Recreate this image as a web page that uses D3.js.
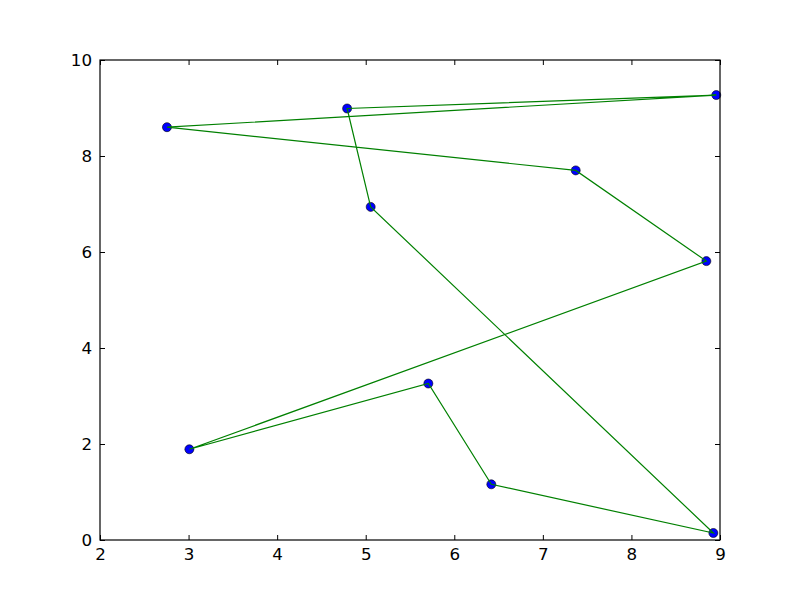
<!DOCTYPE html>
<html>
<head>
<script src="https://cdn.jsdelivr.net/npm/d3@7"></script>
<style>
  body { margin: 0; background: #fff; }
  text { font-family: "DejaVu Sans", sans-serif; font-size: 16.7px; fill: #000; }
</style>
</head>
<body>
<div id="chart"></div>
<script>
// data points, in the order the line visits them (closed loop)
const xs = [2.756, 8.958, 4.79, 5.056, 8.925, 6.418, 5.707, 3.009, 8.846, 7.371, 2.756];
const ys = [8.60, 9.27, 8.99, 6.94, 0.146, 1.16, 3.26, 1.89, 5.81, 7.70, 8.60];
const xTicks = [2, 3, 4, 5, 6, 7, 8, 9];
const yTicks = [0, 2, 4, 6, 8, 10];

const W = 800, H = 600;
const m = { left: 100, right: 80, top: 60, bottom: 60 };

const svg = d3.select("#chart").append("svg")
  .attr("width", W).attr("height", H);

const x = d3.scaleLinear().domain([2, 9]).range([m.left, W - m.right]);
const y = d3.scaleLinear().domain([0, 10]).range([H - m.bottom, m.top]);

const pts = xs.map((v, i) => [v, ys[i]]);

// markers
svg.append("g").selectAll("circle")
  .data(pts.slice(0, -1))
  .enter().append("circle")
  .attr("cx", d => x(d[0]))
  .attr("cy", d => y(d[1]))
  .attr("r", 4.5)
  .attr("fill", "#0000ff")
  .attr("stroke", "#000")
  .attr("stroke-width", 0.6);

// line
svg.append("path")
  .datum(pts)
  .attr("fill", "none")
  .attr("stroke", "#008000")
  .attr("stroke-width", 1.2)
  .attr("d", d3.line().x(d => x(d[0])).y(d => y(d[1])));

// axes: inward ticks on all four sides
const tick = 5;
svg.append("g").attr("transform", `translate(0,${H - m.bottom})`)
  .call(d3.axisBottom(x).tickValues(xTicks).tickFormat(d3.format("d")).tickSizeInner(-tick).tickSizeOuter(0).tickPadding(8))
  .call(g => g.select(".domain").remove());
svg.append("g").attr("transform", `translate(0,${m.top})`)
  .call(d3.axisTop(x).tickValues(xTicks).tickSizeInner(-tick).tickSizeOuter(0).tickFormat(""))
  .call(g => g.select(".domain").remove());
svg.append("g").attr("transform", `translate(${m.left},0)`)
  .call(d3.axisLeft(y).tickValues(yTicks).tickFormat(d3.format("d")).tickSizeInner(-tick).tickSizeOuter(0).tickPadding(8))
  .call(g => g.select(".domain").remove());
svg.append("g").attr("transform", `translate(${W - m.right},0)`)
  .call(d3.axisRight(y).tickValues(yTicks).tickSizeInner(-tick).tickSizeOuter(0).tickFormat(""))
  .call(g => g.select(".domain").remove());

svg.selectAll(".tick text")
  .style("font-family", "'DejaVu Sans', sans-serif")
  .style("font-size", "16.7px")
  .attr("fill", "#000");
svg.selectAll(".tick line").attr("stroke", "#000");

// frame
svg.append("rect")
  .attr("x", m.left).attr("y", m.top)
  .attr("width", W - m.left - m.right).attr("height", H - m.top - m.bottom)
  .attr("fill", "none").attr("stroke", "#000").attr("stroke-width", 1.2);
</script>
</body>
</html>
